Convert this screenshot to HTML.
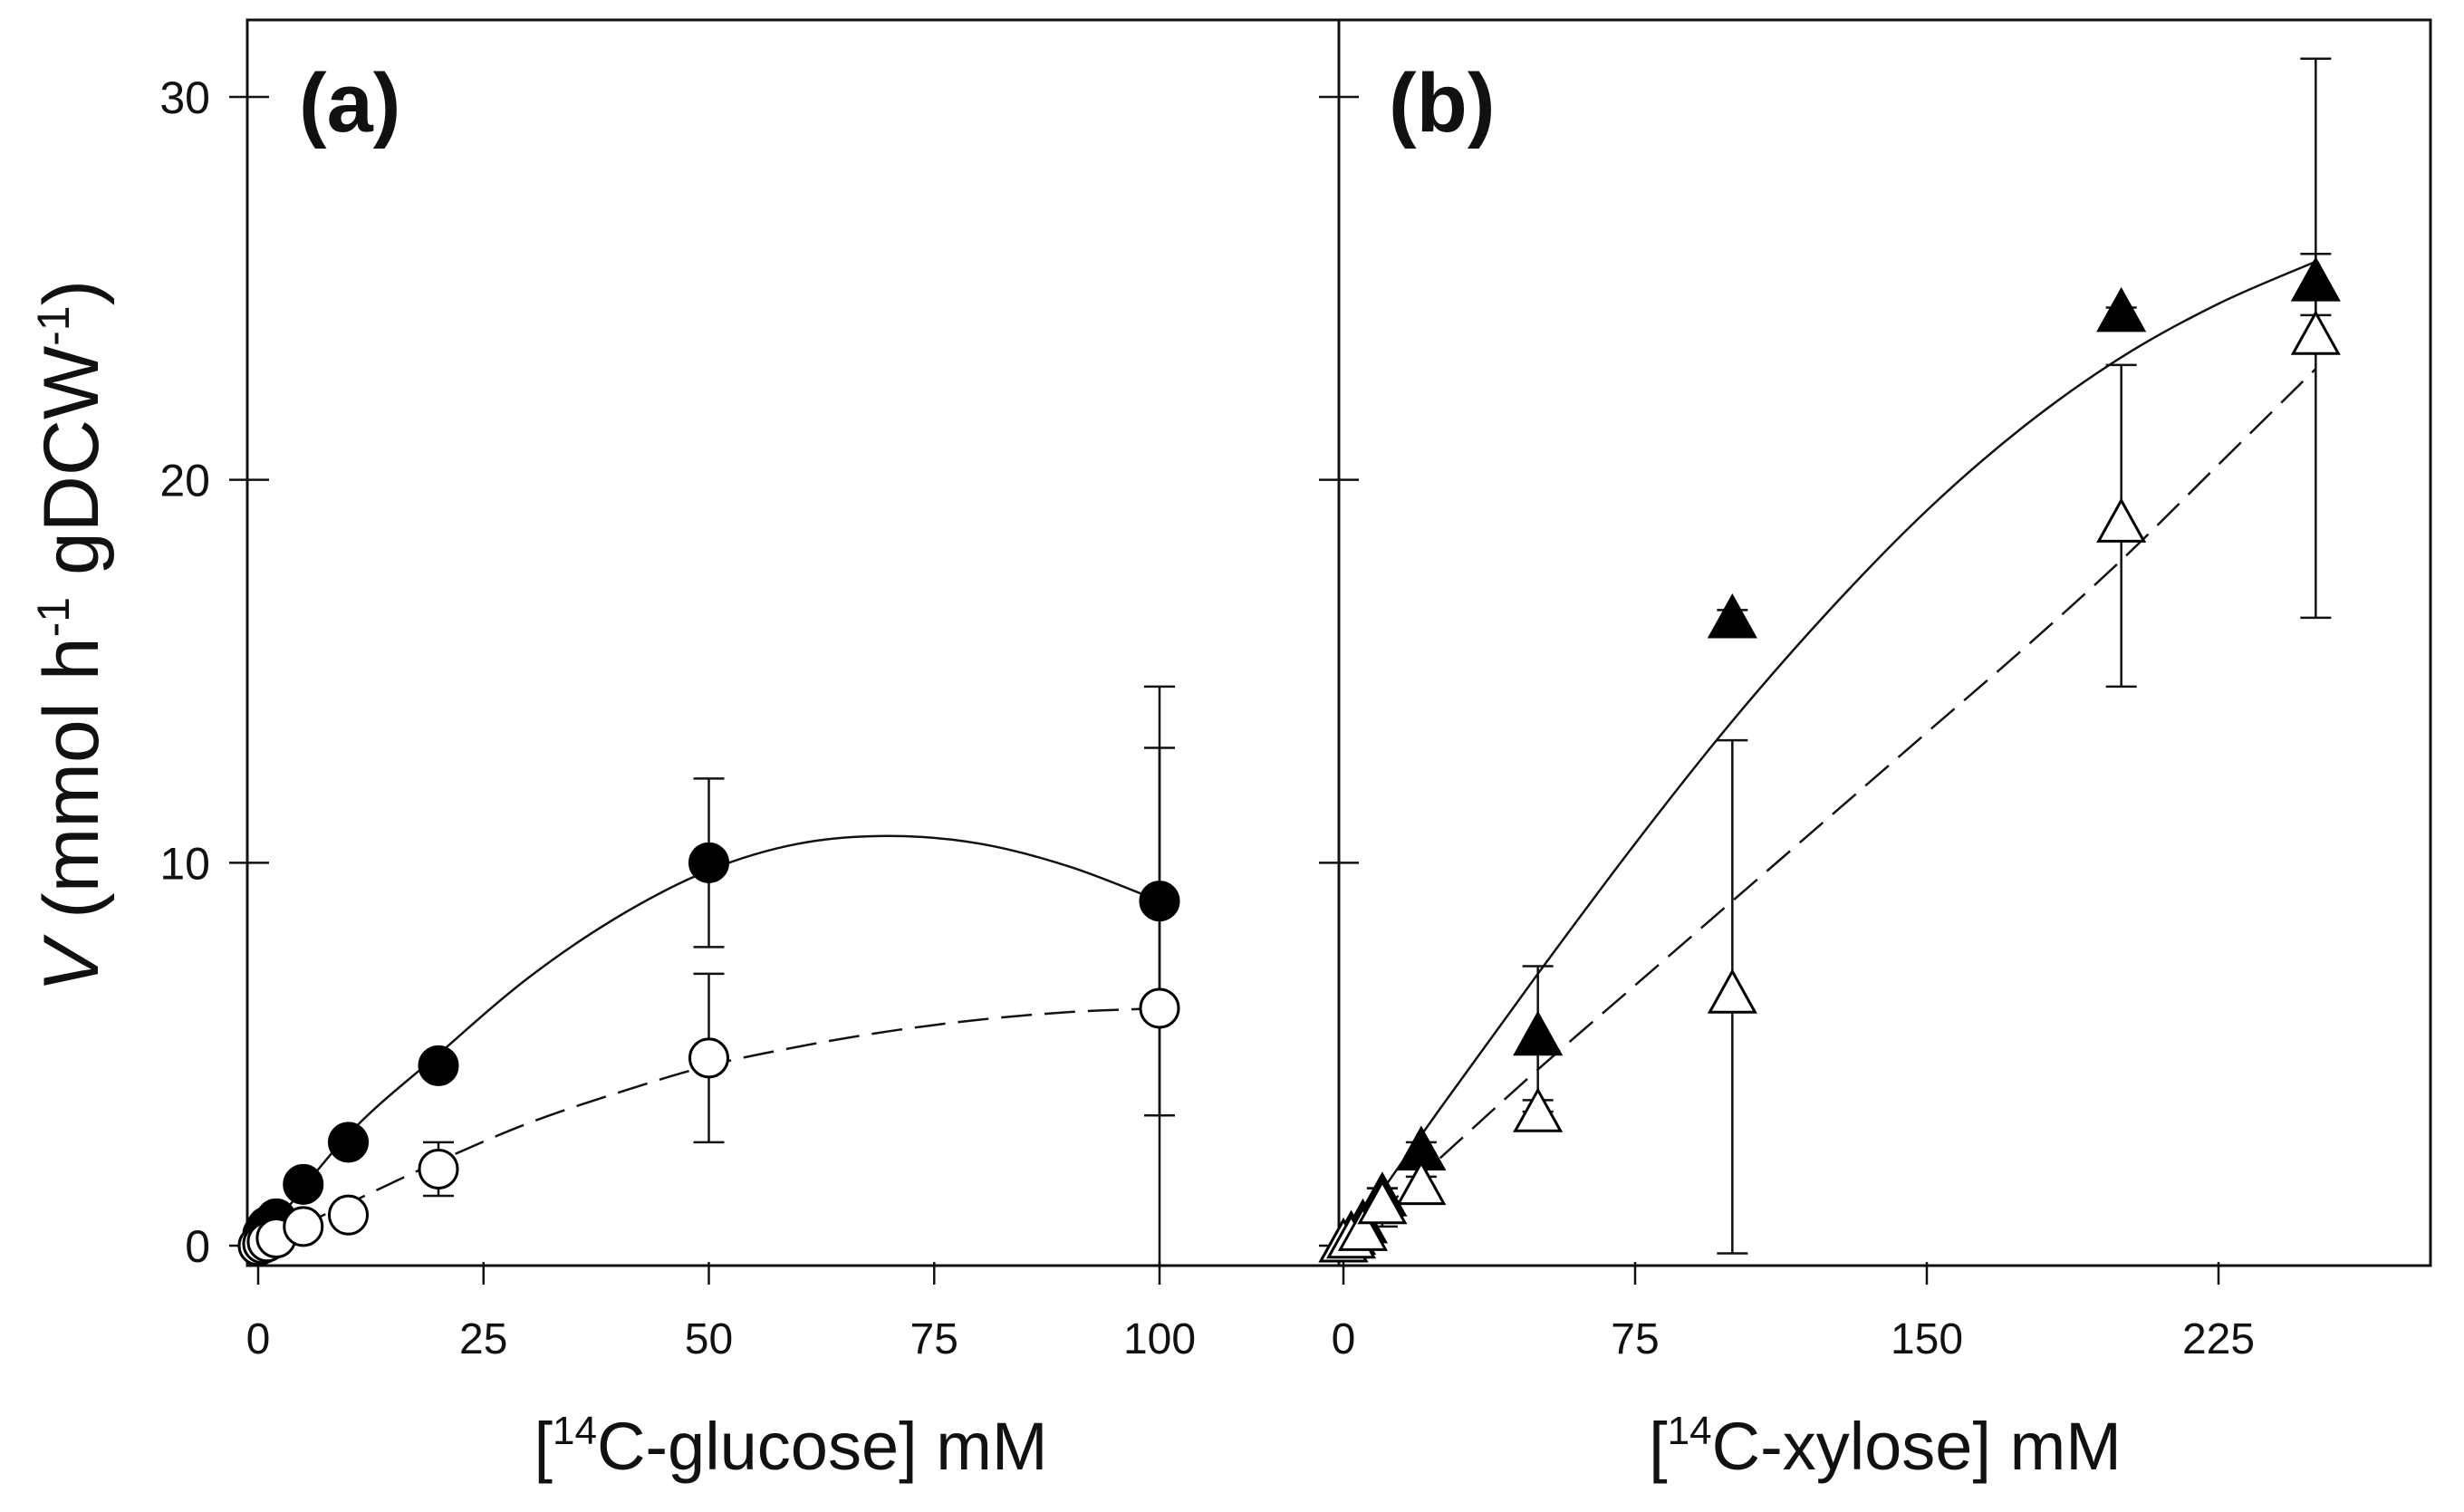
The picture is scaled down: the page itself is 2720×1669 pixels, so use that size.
<!DOCTYPE html>
<html><head><meta charset="utf-8"><style>
html,body{margin:0;padding:0;background:#fff}
svg{display:block}
text{font-family:"Liberation Sans",Arial,sans-serif;fill:#111}
</style></head><body>
<svg id="chart" width="2720" height="1669" viewBox="0 0 2720 1669" xmlns="http://www.w3.org/2000/svg"></svg>
<script>
// ---- data ----
const glcX = [0, 0.5, 1, 2, 5, 10, 20, 50, 100];
const glcFilled = [0, 0.3, 0.5, 0.7, 1.6, 2.7, 4.7, 10.0, 9.0];
const glcOpen = [0, 0.05, 0.1, 0.2, 0.5, 0.8, 2.0, 4.9, 6.2];
const glcFilledErr = [0, 0, 0, 0, 0, 0, 0, 2.2, 5.6];
const glcOpenErr = [0, 0, 0, 0, 0, 0, 0.7, 2.2, 6.8];
const glcFitX = [0, 10, 20, 30, 40, 50, 60, 70, 80, 90, 100];
const glcFitSolid = [0, 2.9, 5.0, 7.0, 8.6, 9.8, 10.5, 10.7, 10.5, 9.9, 9.0];
const glcFitDashed = [0, 1.1, 2.2, 3.2, 4.0, 4.7, 5.2, 5.6, 5.9, 6.1, 6.2];

const xylX = [0, 2, 5, 10, 20, 50, 100, 200, 250];
const xylFilled = [0, 0.2, 0.5, 1.2, 2.4, 5.4, 16.3, 24.3, 25.1];
const xylOpen = [0, 0.1, 0.3, 1.0, 1.5, 3.4, 6.5, 18.8, 23.7];
const xylFilledErr = [0, 0, 0, 0.3, 0.3, 1.9, 0.3, 0.2, 0.8];
const xylOpenErr = [0, 0, 0, 0.5, 0.3, 0.4, 6.7, 4.2, 7.3];
const xylFitX = [0, 25, 50, 75, 100, 125, 150, 175, 200, 225, 250];
const xylFitSolid = [0, 3.6, 7.1, 10.5, 13.7, 16.6, 19.2, 21.4, 23.2, 24.6, 25.7];
const xylFitDashed = [0, 2.3, 4.6, 6.8, 9.0, 11.2, 13.4, 15.6, 17.9, 20.4, 22.9];

const yTicks = [0, 10, 20, 30];
const glcTicks = [0, 25, 50, 75, 100];
const xylTicks = [0, 75, 150, 225];

// ---- geometry ----
const NS = "http://www.w3.org/2000/svg";
const svg = document.getElementById('chart');
const Y0 = 1375, Y30 = 107;
const yS = v => Y0 - v * (Y0 - Y30) / 30;
const xA = v => 285 + v * (1280 - 285) / 100;
const xB = v => 1483 + v * (2449 - 1483) / 225;
const BOT = 1397, TOP = 22, LA = 273, MID = 1478, RB = 2683;

function el(tag, attrs, parent) {
  const e = document.createElementNS(NS, tag);
  for (const k in attrs) e.setAttribute(k, attrs[k]);
  (parent || svg).appendChild(e);
  return e;
}
function line(x1, y1, x2, y2, w, g) { return el('line', {x1, y1, x2, y2, stroke: '#111', 'stroke-width': w || 3}, g); }
function txt(s, x, y, size, anchor, g) {
  const t = el('text', {x, y, 'font-size': size, 'text-anchor': anchor || 'middle'}, g);
  t.textContent = s; return t;
}
function smooth(xs, ys, fx) {
  const p = xs.map((x, i) => [fx(x), yS(ys[i])]);
  let d = `M${p[0][0]},${p[0][1]}`;
  for (let i = 0; i < p.length - 1; i++) {
    const p0 = p[Math.max(0, i - 1)], p1 = p[i], p2 = p[i + 1], p3 = p[Math.min(p.length - 1, i + 2)];
    const c1 = [p1[0] + (p2[0] - p0[0]) / 6, p1[1] + (p2[1] - p0[1]) / 6];
    const c2 = [p2[0] - (p3[0] - p1[0]) / 6, p2[1] - (p3[1] - p1[1]) / 6];
    d += ` C${c1[0]},${c1[1]} ${c2[0]},${c2[1]} ${p2[0]},${p2[1]}`;
  }
  return d;
}
function errBars(xs, ys, es, fx, g) {
  xs.forEach((x, i) => {
    if (!es[i]) return;
    const cx = fx(x), hi = yS(ys[i] + es[i]), lo = Math.min(BOT, yS(ys[i] - es[i]));
    line(cx, hi, cx, lo, 2.5, g);
    line(cx - 17, hi, cx + 17, hi, 2.5, g);
    if (yS(ys[i] - es[i]) <= BOT) line(cx - 17, lo, cx + 17, lo, 2.5, g);
  });
}

// frame
const frame = el('g', {});


el('rect', {x: LA, y: TOP, width: RB - LA, height: BOT - TOP, fill: 'none', stroke: '#111', 'stroke-width': 3}, frame);
line(MID, TOP, MID, BOT, 3, frame);

// y axis a
const ya = el('g', {});


yTicks.forEach(v => { line(253, yS(v), 297, yS(v), 2.5, ya); txt(String(v), 232, yS(v) + 18, 50, 'end', ya); });
// y ticks b
const yb = el('g', {});


yTicks.forEach(v => line(MID - 22, yS(v), MID + 22, yS(v), 2.5, yb));

// x axis a
const xa = el('g', {});


glcTicks.forEach(v => { line(xA(v), BOT - 4, xA(v), 1418, 2.5, xa); txt(String(v), xA(v), 1494, 48, 'middle', xa); });
const xta = txt('', 873, 1622, 74, 'middle', xa);
xta.innerHTML = '[<tspan dy="-28" font-size="44">14</tspan><tspan dy="28">C-glucose] mM</tspan>';

// x axis b
const xb = el('g', {});


xylTicks.forEach(v => { line(xB(v), BOT - 4, xB(v), 1418, 2.5, xb); txt(String(v), xB(v), 1494, 48, 'middle', xb); });
const xtb = txt('', 2081, 1622, 74, 'middle', xb);
xtb.innerHTML = '[<tspan dy="-28" font-size="44">14</tspan><tspan dy="28">C-xylose] mM</tspan>';


// y title
const yt = el('text', {transform: 'translate(108,702) rotate(-90)', 'font-size': 86, 'text-anchor': 'middle'});


yt.innerHTML = '<tspan font-style="italic">V</tspan> (mmol h<tspan dy="-32" font-size="50">-1</tspan><tspan dy="32"> gDCW</tspan><tspan dy="-32" font-size="50">-1</tspan><tspan dy="32">)</tspan>';

const la = el('text', {x: 330, y: 145, 'font-size': 92, 'font-weight': 'bold'});
la.textContent = '(a)';


const lb = el('text', {x: 1533, y: 145, 'font-size': 92, 'font-weight': 'bold'});
lb.textContent = '(b)';



// panel a series
const sa = el('g', {});


const fa1 = el('path', {d: smooth(glcFitX, glcFitSolid, xA), fill: 'none', stroke: '#111', 'stroke-width': 2.5}, sa);

const fa2 = el('path', {d: smooth(glcFitX, glcFitDashed, xA), fill: 'none', stroke: '#111', 'stroke-width': 2.5, 'stroke-dasharray': '34 14'}, sa);

errBars(glcX, glcFilled, glcFilledErr, xA, sa);
errBars(glcX, glcOpen, glcOpenErr, xA, sa);
glcX.forEach((x, i) => {
  const c = el('circle', {cx: xA(x), cy: yS(glcFilled[i]), r: 21, fill: '#000', stroke: '#000', 'stroke-width': 3}, sa);
  
  
});
glcX.forEach((x, i) => {
  const c = el('circle', {cx: xA(x), cy: yS(glcOpen[i]), r: 21, fill: '#fff', stroke: '#000', 'stroke-width': 3}, sa);
  
  
});

// panel b series
const sb = el('g', {});


const fb1 = el('path', {d: smooth(xylFitX, xylFitSolid, xB), fill: 'none', stroke: '#111', 'stroke-width': 2.5}, sb);

const fb2 = el('path', {d: smooth(xylFitX, xylFitDashed, xB), fill: 'none', stroke: '#111', 'stroke-width': 2.5, 'stroke-dasharray': '34 14'}, sb);

errBars(xylX, xylFilled, xylFilledErr, xB, sb);
errBars(xylX, xylOpen, xylOpenErr, xB, sb);
function tri(cx, cy, fill) {
  return el('polygon', {points: `${cx},${cy - 28} ${cx - 25},${cy + 17} ${cx + 25},${cy + 17}`, fill, stroke: '#000', 'stroke-width': 3}, sb);
}
xylX.forEach((x, i) => {
  const t = tri(xB(x), yS(xylFilled[i]), '#000');
  
  
});
xylX.forEach((x, i) => {
  const t = tri(xB(x), yS(xylOpen[i]), '#fff');
  
  
});
</script>
</body></html>
